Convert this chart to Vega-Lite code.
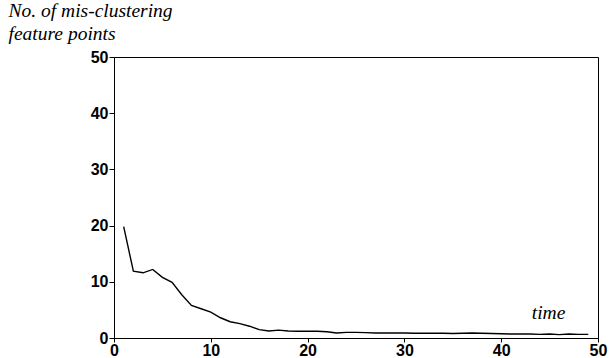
{
  "$schema": "https://vega.github.io/schema/vega-lite/v6.json",
  "width": 484,
  "height": 281,
  "autosize": "none",
  "padding": {"left": 114, "top": 57, "right": 12, "bottom": 20},
  "background": "white",
  "config": {"view": {"stroke": "black", "strokeWidth": 1}},
  "data": {"values": [
    {"t": 1, "n": 19.8}, {"t": 2, "n": 11.9}, {"t": 3, "n": 11.6}, {"t": 4, "n": 12.2},
    {"t": 5, "n": 10.8}, {"t": 6, "n": 9.9}, {"t": 7, "n": 7.7}, {"t": 8, "n": 5.8},
    {"t": 9, "n": 5.2}, {"t": 10, "n": 4.6}, {"t": 11, "n": 3.6}, {"t": 12, "n": 2.9},
    {"t": 13, "n": 2.55}, {"t": 14, "n": 2.1}, {"t": 15, "n": 1.5}, {"t": 16, "n": 1.25},
    {"t": 17, "n": 1.4}, {"t": 18, "n": 1.25}, {"t": 19, "n": 1.2}, {"t": 20, "n": 1.2},
    {"t": 21, "n": 1.2}, {"t": 22, "n": 1.1}, {"t": 23, "n": 0.9}, {"t": 24, "n": 1.0},
    {"t": 25, "n": 1.0}, {"t": 26, "n": 0.95}, {"t": 27, "n": 0.9}, {"t": 28, "n": 0.9},
    {"t": 29, "n": 0.9}, {"t": 30, "n": 0.9}, {"t": 31, "n": 0.85}, {"t": 32, "n": 0.85},
    {"t": 33, "n": 0.85}, {"t": 34, "n": 0.85}, {"t": 35, "n": 0.8}, {"t": 36, "n": 0.85},
    {"t": 37, "n": 0.9}, {"t": 38, "n": 0.85}, {"t": 39, "n": 0.8}, {"t": 40, "n": 0.75},
    {"t": 41, "n": 0.7}, {"t": 42, "n": 0.7}, {"t": 43, "n": 0.7}, {"t": 44, "n": 0.65},
    {"t": 45, "n": 0.7}, {"t": 46, "n": 0.6}, {"t": 47, "n": 0.7}, {"t": 48, "n": 0.65},
    {"t": 49, "n": 0.65}
  ]},
  "mark": {"type": "line", "color": "black", "strokeWidth": 1.4},
  "encoding": {
    "x": {
      "field": "t", "type": "quantitative",
      "scale": {"domain": [0, 50], "nice": false, "zero": false},
      "axis": {
        "values": [0, 10, 20, 30, 40, 50],
        "grid": false, "domainColor": "black", "tickColor": "black",
        "tickSize": 4, "labelPadding": 0,
        "labelFont": "Liberation Sans", "labelFontWeight": "bold", "labelFontSize": 16, "labelColor": "black",
        "labelFlush": false,
        "title": "time",
        "titleFont": "Liberation Serif", "titleFontStyle": "italic", "titleFontWeight": "normal",
        "titleFontSize": 19.5, "titleColor": "black",
        "titleX": 434, "titleY": -26, "titleAlign": "center", "titleBaseline": "middle"
      }
    },
    "y": {
      "field": "n", "type": "quantitative",
      "scale": {"domain": [0, 50], "nice": false},
      "axis": {
        "values": [0, 10, 20, 30, 40, 50],
        "grid": false, "domainColor": "black", "tickColor": "black",
        "tickSize": 5, "labelPadding": 1,
        "labelFont": "Liberation Sans", "labelFontWeight": "bold", "labelFontSize": 16, "labelColor": "black",
        "labelFlush": false,
        "title": ["No. of mis-clustering", "feature points"],
        "titleFont": "Liberation Serif", "titleFontStyle": "italic", "titleFontWeight": "normal",
        "titleFontSize": 19.5, "titleColor": "black", "titleLineHeight": 23,
        "titleAngle": 0, "titleAlign": "left", "titleBaseline": "top",
        "titleX": -106, "titleY": -56
      }
    }
  }
}
